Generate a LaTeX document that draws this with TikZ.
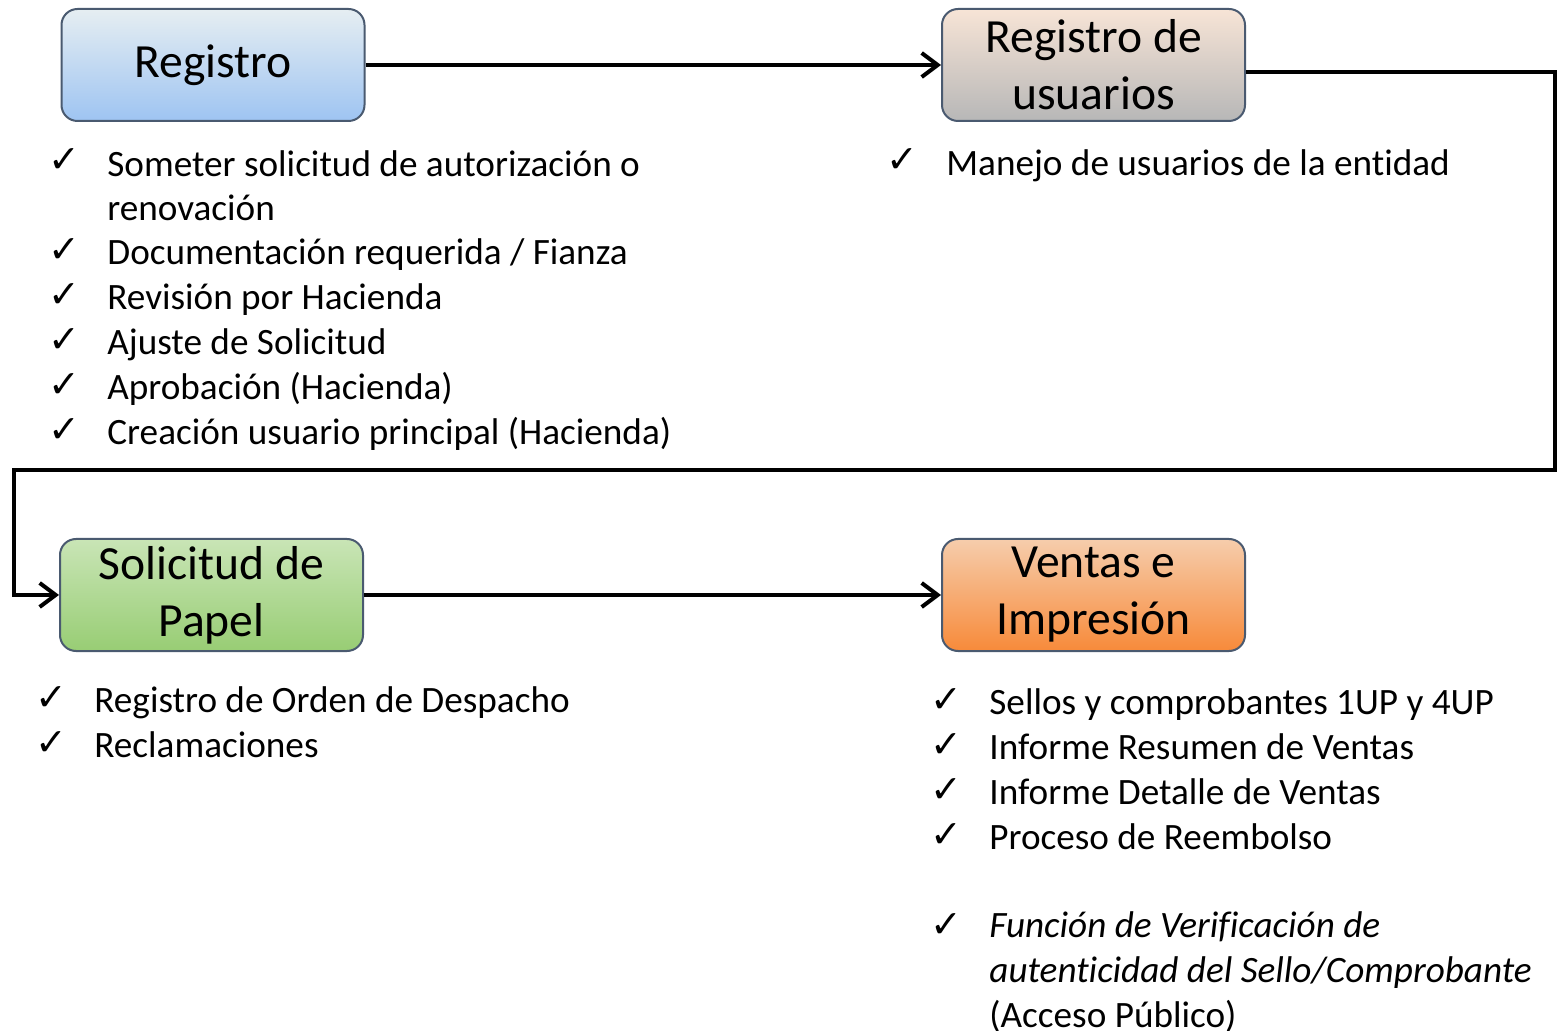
\documentclass[tikz,border=0pt]{standalone}
\usepackage{fontspec}
\setmainfont[Ligatures={NoCommon}]{Carlito}
\newfontfamily\symfont{DejaVu Sans}
\usetikzlibrary{arrows.meta}
\definecolor{bordc}{HTML}{4A5A70}
\definecolor{aTop}{HTML}{E6EEF2}\definecolor{aBot}{HTML}{9EC4F2}
\definecolor{bTop}{HTML}{F7E4D6}\definecolor{bBot}{HTML}{B7B7B7}
\definecolor{cTop}{HTML}{C9E5B6}\definecolor{cBot}{HTML}{98CD74}
\definecolor{dTop}{HTML}{F6CDAC}\definecolor{dBot}{HTML}{F78A3A}
\tikzset{
  stagebox/.style={draw=bordc, line width=1pt, rounded corners=8pt,
    minimum width=151.5pt, minimum height=56pt, align=center,
    font=\fontsize{23.8pt}{28.5pt}\selectfont, inner sep=0pt},
  flow/.style={line width=2pt, -{Straight Barb[length=8pt,width=12pt,line width=2pt]}},
  item/.style={anchor=base west, inner sep=0pt, align=left,
    font=\fontsize{18.6pt}{22.4pt}\selectfont},
  tick/.style={anchor=base west, inner sep=0pt, font=\symfont\fontsize{19pt}{20pt}\selectfont},
}
\begin{document}
\begin{tikzpicture}[x=0.5pt,y=-0.5pt]
\useasboundingbox (0,0) rectangle (1558,1031);
% boxes
\node[stagebox, top color=aTop, bottom color=aBot] (b1) at (213,65) {\raisebox{-2pt}{Registro}};
\node[stagebox, top color=bTop, bottom color=bBot] (b2) at (1093.5,65) {Registro de\\usuarios};
\node[stagebox, top color=cTop, bottom color=cBot] (b3) at (211.5,595) {\raisebox{-1.5pt}{Solicitud de}\\\raisebox{-1.5pt}{Papel}};
\node[stagebox, top color=dTop, bottom color=dBot] (b4) at (1093.5,595) {\raisebox{-1.5pt}{Ventas e}\\\raisebox{-1.5pt}{Impresión}};
% connectors
\coordinate (c1) at (1555,470);
\coordinate (c2) at (14,470);
\draw[flow] (b1.east) -- (b2.west);
\draw[flow] ([yshift=-3.5pt]b2.east) -| (c1) -- (c2) |- (b3.west);
\draw[flow] (b3.east) -- (b4.west);
% list under Registro
\foreach \y in {173,263,308,353,398,443} \node[tick] at (48,\y) {✓};
\node[item] (t1) at (107,221) {Someter solicitud de autorización o\\renovación};
\node[item] (t2) at (107,265) {Documentación requerida / Fianza};
\node[item] (t3) at (107,310) {Revisión por Hacienda};
\node[item] (t4) at (107,355) {Ajuste de Solicitud};
\node[item] (t5) at (107,400) {Aprobación (Hacienda)};
\node[item] (t6) at (107,445) {Creación usuario principal (Hacienda)};
% list under Registro de usuarios
\node[tick] at (886,173) {✓};
\node[item] (u1) at (946,176) {Manejo de usuarios de la entidad};
% list under Solicitud de Papel
\foreach \y in {710,755} \node[tick] at (35,\y) {✓};
\node[item] (s1) at (94,712) {Registro de Orden de Despacho};
\node[item] (s2) at (94,757) {Reclamaciones};
% list under Ventas e Impresión
\foreach \y in {712,757,802,847,937} \node[tick] at (930,\y) {✓};
\node[item] (v1) at (989,714) {Sellos y comprobantes 1UP y 4UP};
\node[item] (v2) at (989,759) {Informe Resumen de Ventas};
\node[item] (v3) at (989,804) {Informe Detalle de Ventas};
\node[item] (v4) at (989,849) {Proceso de Reembolso};
\node[item] (v5) at (989,1027) {\itshape Función de Verificación de\\\itshape autenticidad del Sello/Comprobante\\(Acceso Público)};
\end{tikzpicture}
\end{document}
